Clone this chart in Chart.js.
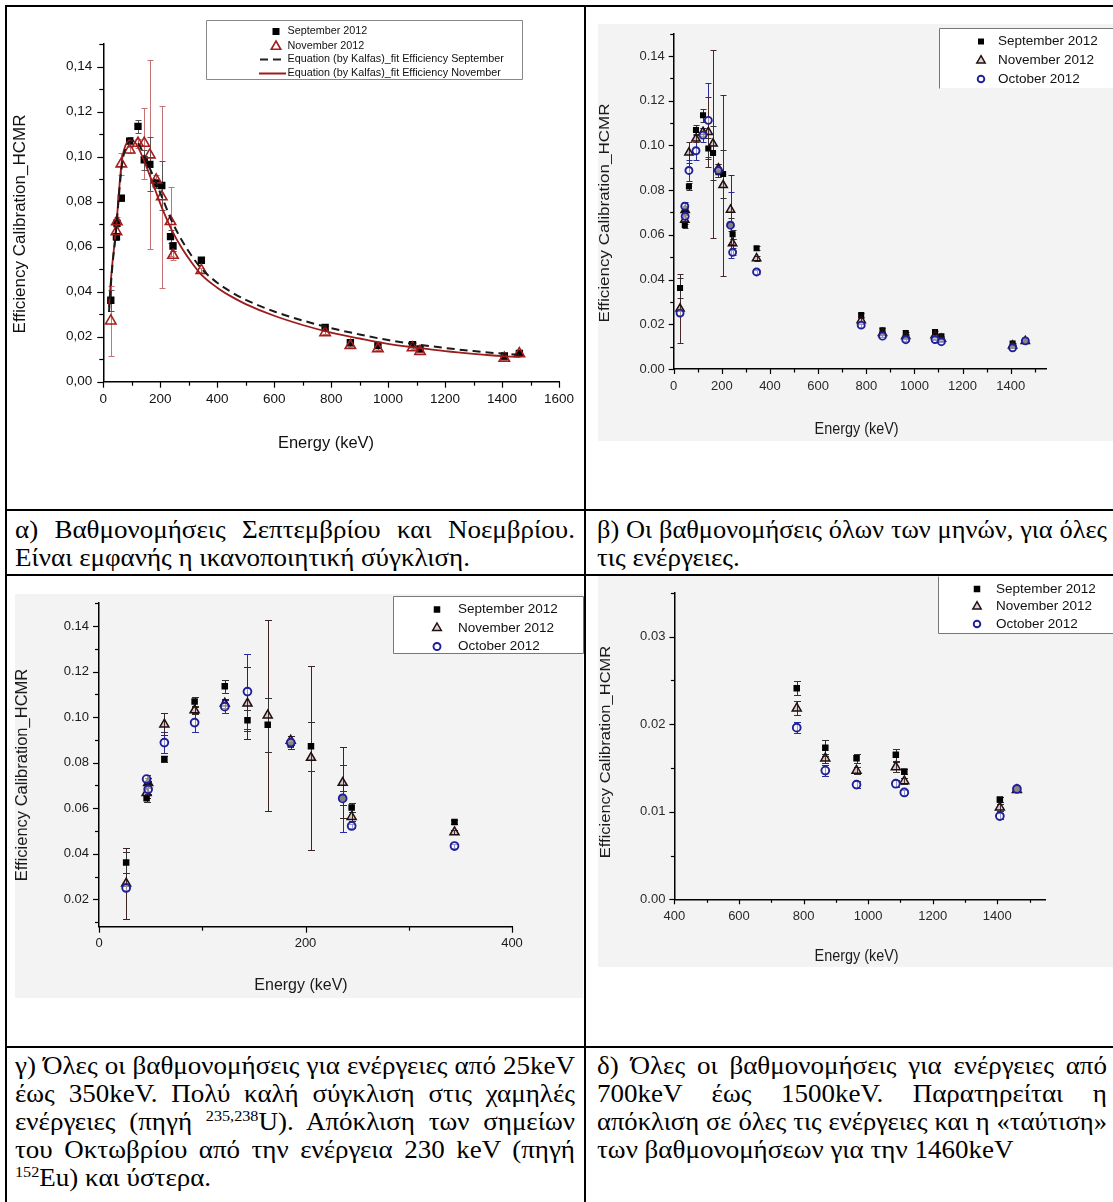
<!DOCTYPE html>
<html><head><meta charset="utf-8">
<script src="https://cdn.jsdelivr.net/npm/chart.js@4/dist/chart.umd.min.js"></script>
<style>
body{margin:0;background:#fff;width:1113px;height:1202px;overflow:hidden;position:relative;}
.ln{position:absolute;background:#000;z-index:5;}
.bg{position:absolute;background:#f3f3f3;}
canvas{position:absolute;z-index:2;}
.cap{position:absolute;font-family:"Liberation Serif","Times New Roman",serif;font-size:25px;line-height:28px;height:28px;color:#000;white-space:nowrap;transform-origin:0 0;z-index:3;}
.cap.j{text-align:justify;text-align-last:justify;}
.cap sup{font-size:15px;line-height:0;vertical-align:9px;}
</style></head><body>

<div class="bg" style="left:598px;top:24px;width:515px;height:417px"></div>
<div class="bg" style="left:15px;top:594px;width:568px;height:404px"></div>
<div class="bg" style="left:598px;top:576px;width:515px;height:391px"></div>

<canvas id="pa"></canvas>
<canvas id="pb"></canvas>
<canvas id="pc"></canvas>
<canvas id="pd"></canvas>

<div class="ln" style="left:5px;top:5px;width:1108px;height:2px"></div>
<div class="ln" style="left:5px;top:5px;width:2px;height:1197px"></div>
<div class="ln" style="left:584px;top:5px;width:2px;height:1197px"></div>
<div class="ln" style="left:5px;top:509px;width:1108px;height:2px"></div>
<div class="ln" style="left:5px;top:574px;width:1108px;height:2px"></div>
<div class="ln" style="left:5px;top:1046px;width:1108px;height:2px"></div>

<div id="caps"></div>

<script>
// ===================== DATA =====================
const energies = [26.3, 46.1, 47.6, 63.3, 92.6, 121.8, 143.8, 163.4, 185.7, 205.3, 236.0, 244.7, 344.3,
                  778.9, 867.4, 964.1, 1085.8, 1112.1, 1408.0, 1460.8];
const effSeptember = [0.0362, 0.0644, 0.0705, 0.0816, 0.1069, 0.1135, 0.0986, 0.0966, 0.0880, 0.0872, 0.0645, 0.0603, 0.0540,
                      0.0241, 0.0173, 0.0161, 0.0165, 0.0146, 0.0114, 0.0126];
const errSeptember = [0.0046, 0.0015, 0.0015, 0.0015, 0.0020, 0.0030, 0.0045, 0.0120, 0.0020, 0.0107, 0.0030, 0.0020, 0.0010,
                      0.0008, 0.0009, 0.0005, 0.0007, 0.0003, 0.0003, 0.0003];
const effNovember  = [0.0270, 0.0667, 0.0711, 0.0968, 0.1030, 0.1060, 0.1060, 0.1008, 0.0897, 0.0822, 0.0712, 0.0562, 0.0495,
                      0.0218, 0.0161, 0.0147, 0.0151, 0.0135, 0.0105, 0.0125];
const errNovember  = [0.0155, 0.0020, 0.0020, 0.0048, 0.0015, 0.0020, 0.0158, 0.0420, 0.0020, 0.0404, 0.0155, 0.0020, 0.0010,
                      0.0008, 0.0005, 0.0004, 0.0006, 0.0003, 0.0004, 0.0003];
const effOctober   = [0.0250, 0.0728, 0.0683, 0.0888, 0.0976, 0.1046, 0.1112, null, 0.0888, null, 0.0643, 0.0522, 0.0434,
                      0.0196, 0.0147, 0.0131, 0.0132, 0.0122, 0.0095, 0.0126];
const errOctober   = [0.0010, 0.0020, 0.0020, 0.0045, 0.0040, 0.0030, 0.0165, null, 0.0030, null, 0.0148, 0.0010, 0.0010,
                      0.0006, 0.0006, 0.0004, 0.0004, 0.0003, 0.0003, 0.0003];

// fitted curves
const fitEnergy    = [20, 26, 33, 40, 46, 53, 60, 68, 78, 92, 108, 125, 150, 180, 210, 240, 275, 310, 345, 400, 450, 500,
                      600, 700, 800, 900, 1000, 1100, 1200, 1300, 1400, 1465];
const fitSeptember = [0.031, 0.042, 0.053, 0.061, 0.069, 0.080, 0.090, 0.0985, 0.1035, 0.1065, 0.1072, 0.1055, 0.0985, 0.0900,
                      0.0808, 0.0715, 0.0630, 0.0560, 0.0502, 0.0440, 0.0398, 0.0364, 0.0312, 0.0272, 0.0238, 0.0210, 0.0185,
                      0.0166, 0.0150, 0.0136, 0.0125, 0.0119];
const fitNovember  = [0.033, 0.044, 0.054, 0.062, 0.070, 0.081, 0.092, 0.1005, 0.105, 0.1073, 0.1068, 0.1035, 0.0960, 0.0860,
                      0.0760, 0.0675, 0.0595, 0.0530, 0.0475, 0.0418, 0.0378, 0.0345, 0.0293, 0.0252, 0.0218, 0.0192, 0.0168,
                      0.0151, 0.0136, 0.0124, 0.0114, 0.0110];

const seriesLabels = ['September 2012', 'November 2012', 'October 2012'];
const fitLabels = ['Equation (by Kalfas)_fit Efficiency September', 'Equation (by Kalfas)_fit Efficiency November'];
const yTitle = 'Efficiency Calibration_HCMR';
const xTitle = 'Energy (keV)';

// ticks
const aXMajor = [0, 200, 400, 600, 800, 1000, 1200, 1400, 1600];
const aXMinor = [100, 300, 500, 700, 900, 1100, 1300, 1500];
const aYMajor = [0, 0.02, 0.04, 0.06, 0.08, 0.10, 0.12, 0.14];
const aYMinor = [0.01, 0.03, 0.05, 0.07, 0.09, 0.11, 0.13, 0.15];
const bXMajor = [0, 200, 400, 600, 800, 1000, 1200, 1400];
const bXMinor = [100, 300, 500, 700, 900, 1100, 1300, 1500];
const bYMajor = [0, 0.02, 0.04, 0.06, 0.08, 0.10, 0.12, 0.14];
const bYMinor = [0.01, 0.03, 0.05, 0.07, 0.09, 0.11, 0.13, 0.15];
const cXMajor = [0, 200, 400];
const cXMinor = [100, 300];
const cYMajor = [0.02, 0.04, 0.06, 0.08, 0.10, 0.12, 0.14];
const cYMinor = [0.01, 0.03, 0.05, 0.07, 0.09, 0.11, 0.13, 0.15];
const dXMajor = [400, 600, 800, 1000, 1200, 1400];
const dXMinor = [500, 700, 900, 1100, 1300, 1500];
const dYMajor = [0, 0.01, 0.02, 0.03];
const dYMinor = [0.005, 0.015, 0.025, 0.035];

const captions = [
  {x:15, w:560, y:516, lines:[['α) Βαθμονομήσεις Σεπτεμβρίου και Νοεμβρίου.',1],['Είναι εμφανής η ικανοποιητική σύγκλιση.',0]]},
  {x:597, w:510, y:516, lines:[['β) Οι βαθμονομήσεις όλων των μηνών, για όλες',1],['τις ενέργειες.',0]]},
  {x:15, w:560, y:1052, lines:[['γ) Όλες οι βαθμονομήσεις για ενέργειες από 25keV',1],['έως 350keV. Πολύ καλή σύγκλιση στις χαμηλές',1],
     ['ενέργειες (πηγή <sup>235,238</sup>U). Απόκλιση των σημείων',1],['του Οκτωβρίου από την ενέργεια 230 keV (πηγή',1],['<sup>152</sup>Eu) και ύστερα.',0]]},
  {x:597, w:510, y:1052, lines:[['δ) Όλες οι βαθμονομήσεις για ενέργειες από',1],['700keV έως 1500keV. Παρατηρείται η',1],
     ['απόκλιση σε όλες τις ενέργειες και η «ταύτιση»',1],['των βαθμονομήσεων για την 1460keV',0]]}
];

// ===================== HELPERS =====================
function pts(vals, errs) {
  const out = [];
  energies.forEach((e, i) => { if (vals[i] != null) out.push({x: e, y: vals[i], e: errs ? errs[i] : null}); });
  return out;
}
function curve(vals) { return fitEnergy.map((e, i) => ({x: e, y: vals[i]})); }

const SANS = '"Liberation Sans", Arial, sans-serif';

function txt(ctx, s, x, y, size, color, sx, rot, align) {
  ctx.save();
  ctx.translate(x, y);
  if (rot) { ctx.rotate(-Math.PI / 2); ctx.scale(1, sx); } else { ctx.scale(sx, 1); }
  ctx.font = size + 'px ' + SANS;
  ctx.fillStyle = color;
  ctx.textAlign = align || 'center';
  ctx.textBaseline = 'middle';
  ctx.fillText(s, 0, 0);
  ctx.restore();
}
function sym(ctx, it) {
  ctx.save();
  const x = it.x, y = it.y;
  if (it.t === 'sq') {
    ctx.fillStyle = it.c; ctx.fillRect(x - it.s / 2, y - it.s / 2, it.s, it.s);
  } else if (it.t === 'tri') {
    const r = it.s;
    ctx.beginPath(); ctx.moveTo(x, y - r); ctx.lineTo(x + r * 0.866, y + r / 2); ctx.lineTo(x - r * 0.866, y + r / 2); ctx.closePath();
    if (it.f) { ctx.fillStyle = it.f; ctx.fill(); }
    ctx.strokeStyle = it.c; ctx.lineWidth = it.lw || 1.5; ctx.stroke();
  } else if (it.t === 'circ') {
    ctx.beginPath(); ctx.arc(x, y, it.s, 0, Math.PI * 2);
    ctx.strokeStyle = it.c; ctx.lineWidth = it.lw || 1.8; ctx.stroke();
  } else if (it.t === 'dash' || it.t === 'line') {
    ctx.strokeStyle = it.c; ctx.lineWidth = 2;
    if (it.t === 'dash') ctx.setLineDash([8, 5]);
    ctx.beginPath(); ctx.moveTo(it.x1, y); ctx.lineTo(it.x2, y); ctx.stroke();
  }
  ctx.restore();
}

function decoPlugin(p) {
  return {
    id: 'deco_' + p.id,
    beforeDatasetsDraw(chart) {
      const ctx = chart.ctx, xs = chart.scales.x, ys = chart.scales.y, ca = chart.chartArea;
      ctx.save();
      ctx.beginPath(); ctx.rect(ca.left, ca.top - 6, ca.width, ca.height + 6); ctx.clip();
      chart.data.datasets.forEach(ds => {
        if (!ds.errColor) return;
        ctx.strokeStyle = ds.errColor; ctx.lineWidth = 1;
        ds.data.forEach(pt => {
          if (pt.e == null || pt.x < p.xMin || pt.x > p.xMax) return;
          const x = Math.round(xs.getPixelForValue(pt.x)) + 0.5;
          const y1 = Math.round(ys.getPixelForValue(pt.y + pt.e)) + 0.5;
          const y2 = Math.round(ys.getPixelForValue(pt.y - pt.e)) + 0.5;
          ctx.beginPath();
          ctx.moveTo(x, y1); ctx.lineTo(x, y2);
          ctx.moveTo(x - p.cap, y1); ctx.lineTo(x + p.cap, y1);
          ctx.moveTo(x - p.cap, y2); ctx.lineTo(x + p.cap, y2);
          ctx.stroke();
        });
      });
      ctx.restore();
    },
    afterDraw(chart) {
      const ctx = chart.ctx, xs = chart.scales.x, ys = chart.scales.y, ca = chart.chartArea;
      const ox = p.left, oy = p.top;
      ctx.save();
      ctx.strokeStyle = '#000'; ctx.lineWidth = 1.2;
      const tick = (arr, len, horiz) => arr.forEach(v => {
        ctx.beginPath();
        if (horiz) { const x = Math.round(xs.getPixelForValue(v)) + 0.5; ctx.moveTo(x, ca.bottom); ctx.lineTo(x, ca.bottom + len); }
        else { const y = Math.round(ys.getPixelForValue(v)) + 0.5; ctx.moveTo(ca.left, y); ctx.lineTo(ca.left - len, y); }
        ctx.stroke();
      });
      tick(p.xMajor, p.majLen, true); tick(p.xMinor, p.minLen, true);
      tick(p.yMajor, p.majLen, false); tick(p.yMinor, p.minLen, false);
      ctx.restore();
      txt(ctx, yTitle, p.yT[0] - ox, p.yT[1] - oy, p.yT[2], p.titleColor, p.yT[3], true);
      txt(ctx, xTitle, p.xT[0] - ox, p.xT[1] - oy, p.xT[2], p.titleColor, p.xT[3], false);
      const L = p.legend;
      ctx.save();
      ctx.fillStyle = '#fff';
      ctx.fillRect(L.box[0] - ox, L.box[1] - oy, L.box[2], L.box[3]);
      ctx.strokeStyle = L.boxColor; ctx.lineWidth = 1;
      const bx = L.box[0] - ox + 0.5, by = L.box[1] - oy + 0.5, bw = L.box[2], bh = L.box[3];
      ctx.beginPath();
      if (L.sides.includes('t')) { ctx.moveTo(bx, by); ctx.lineTo(bx + bw, by); }
      if (L.sides.includes('b')) { ctx.moveTo(bx, by + bh); ctx.lineTo(bx + bw, by + bh); }
      if (L.sides.includes('l')) { ctx.moveTo(bx, by); ctx.lineTo(bx, by + bh); }
      if (L.sides.includes('r')) { ctx.moveTo(bx + bw, by); ctx.lineTo(bx + bw, by + bh); }
      ctx.stroke();
      ctx.restore();
      L.items.forEach(it => {
        sym(ctx, Object.assign({}, it.sym, {x: it.sym.x - ox, y: it.y - oy, x1: it.sym.x1 - ox, x2: it.sym.x2 - ox}));
        txt(ctx, it.label, L.textX - ox, it.y - oy, L.size, L.color, L.sx, false, 'left');
      });
    }
  };
}

function makePanel(p) {
  const cv = document.getElementById(p.id);
  cv.width = p.w; cv.height = p.h;
  cv.style.left = p.left + 'px'; cv.style.top = p.top + 'px';
  cv.style.width = p.w + 'px'; cv.style.height = p.h + 'px';
  const fmt = v => { const s = v.toFixed(2); return p.comma ? s.replace('.', ',') : s; };
  const fmtX = v => String(Math.round(v));
  return new Chart(cv, {
    type: 'scatter',
    data: {datasets: p.datasets},
    options: {
      responsive: false, animation: false, devicePixelRatio: 1,
      layout: {padding: {left: 0, top: p.ay0 - p.top, right: p.left + p.w - p.ax1, bottom: 0}},
      plugins: {legend: {display: false}, tooltip: {enabled: false}},
      scales: {
        x: {
          type: 'linear', min: p.xMin, max: p.xMax,
          afterFit: s => { s.height = p.top + p.h - p.ay1; },
          afterBuildTicks: s => { s.ticks = p.xMajor.map(v => ({value: v})); },
          grid: {display: false, drawTicks: false},
          border: {display: true, color: '#000', width: p.axisW},
          ticks: {padding: p.xPad, autoSkip: false, maxRotation: 0, color: p.tickColor,
                  font: {family: SANS, size: p.tickSize}, callback: fmtX}
        },
        y: {
          type: 'linear', min: p.yMin, max: p.yMax,
          afterFit: s => { s.width = p.ax0 - p.left; },
          afterBuildTicks: s => { s.ticks = p.yMajor.map(v => ({value: v})); },
          grid: {display: false, drawTicks: false},
          border: {display: true, color: '#000', width: p.axisW},
          ticks: {padding: p.yPad, autoSkip: false, color: p.tickColor,
                  font: {family: SANS, size: p.tickSize}, callback: fmt}
        }
      }
    },
    plugins: [decoPlugin(p)]
  });
}

// ===================== DATASETS =====================
function scatterSet(label, vals, errs, st) {
  return Object.assign({label, data: pts(vals, errs), showLine: false}, st);
}
const RED = '#a51d1d';

const dsA = [
  {label: fitLabels[1], data: curve(fitNovember), showLine: true, borderColor: '#9e1b1b', borderWidth: 1.8,
   pointRadius: 0, cubicInterpolationMode: 'monotone', order: 1},
  {label: fitLabels[0], data: curve(fitSeptember), showLine: true, borderColor: '#1a1a1a', borderWidth: 2,
   borderDash: [8, 5], pointRadius: 0, cubicInterpolationMode: 'monotone', order: 0},
  scatterSet(seriesLabels[1], effNovember, errNovember, {pointStyle: 'triangle', pointRadius: 6, borderWidth: 1.6,
   borderColor: RED, backgroundColor: 'rgba(255,255,255,0.0)', errColor: '#c77373', order: 2}),
  scatterSet(seriesLabels[0], effSeptember, errSeptember, {pointStyle: 'rect', pointRadius: 5.2, borderWidth: 0,
   borderColor: '#000', backgroundColor: '#000', errColor: '#555', order: 3})
];
function threeSets(sqR, triR, cirR, novErr) {
  return [
    scatterSet(seriesLabels[2], effOctober, errOctober, {pointStyle: 'circle', pointRadius: cirR, borderWidth: 1.9,
      borderColor: '#1f1f9c', backgroundColor: 'rgba(255,255,255,0.5)', errColor: '#2b2ba0', order: 0}),
    scatterSet(seriesLabels[1], effNovember, errNovember, {pointStyle: 'triangle', pointRadius: triR, borderWidth: 1.5,
      borderColor: '#1a1111', backgroundColor: 'rgba(150,30,30,0.22)', errColor: novErr, order: 1}),
    scatterSet(seriesLabels[0], effSeptember, errSeptember, {pointStyle: 'rect', pointRadius: sqR, borderWidth: 0,
      borderColor: '#000', backgroundColor: '#000', errColor: '#333', order: 2})
  ];
}

function legend3(boxX, boxY, boxW, boxH, sides, symX, textX, ys, size, s) {
  return {box: [boxX, boxY, boxW, boxH], sides, boxColor: '#777', textX, size, color: '#111', sx: 1,
    items: [
      {label: seriesLabels[0], y: ys[0], sym: {t: 'sq', x: symX, s: s[0], c: '#000'}},
      {label: seriesLabels[1], y: ys[1], sym: {t: 'tri', x: symX, s: s[1], c: '#1a1111', f: 'rgba(150,30,30,0.22)', lw: 1.5}},
      {label: seriesLabels[2], y: ys[2], sym: {t: 'circ', x: symX, s: s[2], c: '#1f1f9c', lw: 1.9}}
    ]};
}

const panelA = {id: 'pa', left: 7, top: 7, w: 577, h: 502, ax0: 103.3, ax1: 559, ay0: 44.2, ay1: 381.7,
  xMin: 0, xMax: 1600, yMin: 0, yMax: 0.15, comma: true,
  xMajor: aXMajor, xMinor: aXMinor, yMajor: aYMajor, yMinor: aYMinor, majLen: 6, minLen: 4, axisW: 1.5,
  xPad: 9, yPad: 11, tickSize: 13.5, tickColor: '#111', titleColor: '#111', cap: 3,
  yT: [20.5, 224, 17, 0.92], xT: [326, 443, 17, 0.97],
  datasets: dsA,
  legend: {box: [206, 20, 316, 59], sides: 'tblr', boxColor: '#888', textX: 287.5, size: 10.8, color: '#111', sx: 1,
    items: [
      {label: seriesLabels[0], y: 31.5, sym: {t: 'sq', x: 276, s: 7, c: '#000'}},
      {label: seriesLabels[1], y: 46.5, sym: {t: 'tri', x: 276, s: 5.5, c: RED, lw: 1.6}},
      {label: fitLabels[0], y: 59.5, sym: {t: 'dash', x1: 260, x2: 286, c: '#222'}},
      {label: fitLabels[1], y: 73.5, sym: {t: 'line', x1: 259, x2: 286, c: '#9e1b1b'}}
    ]}
};
const panelB = {id: 'pb', left: 586, top: 7, w: 527, h: 502, ax0: 673.7, ax1: 1046.8, ay0: 33.6, ay1: 369,
  xMin: 0, xMax: 1550, yMin: 0, yMax: 0.15, comma: false,
  xMajor: bXMajor, xMinor: bXMinor, yMajor: bYMajor, yMinor: bYMinor, majLen: 5, minLen: 3.5, axisW: 1.5,
  xPad: 10, yPad: 9, tickSize: 13, tickColor: '#2a2a2a', titleColor: '#1a1a1a', cap: 3,
  yT: [605, 213, 17, 0.9], xT: [856.6, 430, 16, 0.9],
  datasets: threeSets(4.3, 4.8, 3.5, '#4a2626'),
  legend: legend3(939, 28, 174, 60, 'tl', 981, 998, [41.5, 60.5, 79], 13.5, [6, 4.8, 3.3])
};
const panelC = {id: 'pc', left: 7, top: 576, w: 577, h: 470, ax0: 99, ax1: 512, ay0: 603.2, ay1: 926.7,
  xMin: 0, xMax: 400, yMin: 0.008, yMax: 0.15, comma: false,
  xMajor: cXMajor, xMinor: cXMinor, yMajor: cYMajor, yMinor: cYMinor, majLen: 6, minLen: 4, axisW: 1.5,
  xPad: 9, yPad: 10, tickSize: 13, tickColor: '#1a1a1a', titleColor: '#1a1a1a', cap: 3.5,
  yT: [23, 775, 16.5, 0.95], xT: [301, 985, 16.5, 0.97],
  datasets: threeSets(4.6, 5.2, 3.9, '#3a2424'),
  legend: legend3(393, 596, 190, 57, 'tblr', 437, 458, [609.5, 628, 646.5], 13.5, [6.5, 5, 3.5])
};
const panelD = {id: 'pd', left: 586, top: 576, w: 527, h: 470, ax0: 674.4, ax1: 1045.7, ay0: 582.4, ay1: 899.3,
  xMin: 400, xMax: 1550, yMin: 0, yMax: 0.035, comma: false,
  xMajor: dXMajor, xMinor: dXMinor, yMajor: dYMajor, yMinor: dYMinor, majLen: 5, minLen: 3.5, axisW: 1.5,
  xPad: 9, yPad: 9, tickSize: 13, tickColor: '#2a2a2a', titleColor: '#1a1a1a', cap: 3.5,
  yT: [606, 752, 16.5, 0.9], xT: [856.6, 957, 16, 0.9],
  datasets: threeSets(4.6, 5.2, 3.9, '#333'),
  legend: legend3(938, 576, 175, 57, 'lb', 977, 996, [589, 606.5, 624], 13.5, [6.5, 4.8, 3.3])
};

[panelA, panelB, panelC, panelD].forEach(makePanel);

// ===================== CAPTIONS =====================
(function () {
  const host = document.getElementById('caps');
  const natural = html => {
    const s = document.createElement('span');
    s.className = 'cap'; s.style.visibility = 'hidden'; s.style.left = '0px'; s.style.top = '0px';
    s.innerHTML = html; host.appendChild(s);
    const w = s.getBoundingClientRect().width; host.removeChild(s); return w;
  };
  const k = 455 / natural('Είναι εμφανής η ικανοποιητική σύγκλιση.');
  captions.forEach(c => {
    c.lines.forEach((ln, i) => {
      let kl = k;
      if (ln[1]) { const nw = natural(ln[0]); if (nw * k > c.w - 2) kl = (c.w - 2) / nw; }
      const d = document.createElement('div');
      d.className = 'cap' + (ln[1] ? ' j' : '');
      d.innerHTML = ln[0];
      d.style.left = c.x + 'px';
      d.style.top = (c.y + i * 28) + 'px';
      d.style.width = (c.w / kl) + 'px';
      d.style.transform = 'scaleX(' + kl.toFixed(4) + ')';
      host.appendChild(d);
    });
  });
})();
</script>
</body></html>
